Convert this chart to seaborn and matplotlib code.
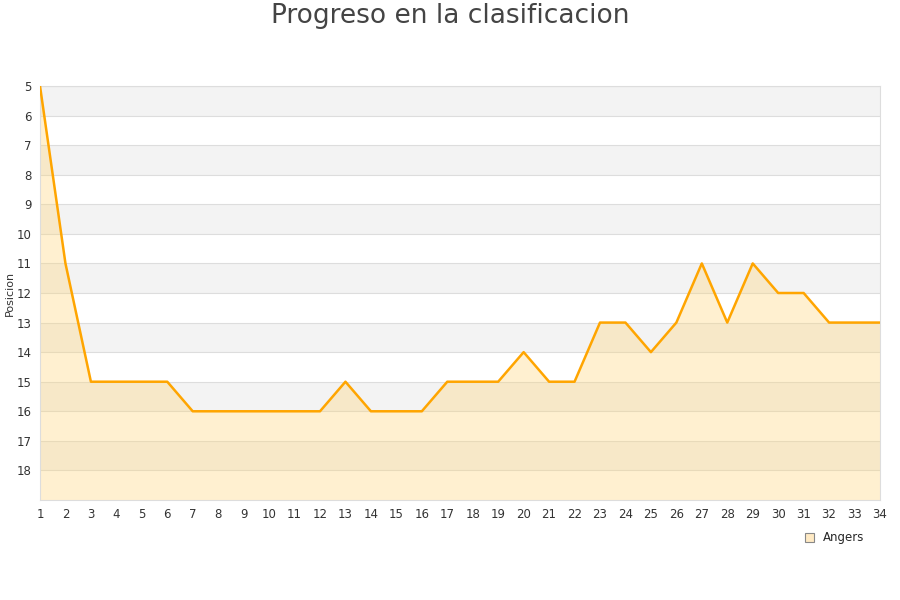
import numpy as np
import pandas as pd
import matplotlib
matplotlib.use('Agg')
import matplotlib.pyplot as plt
import seaborn as sns
from matplotlib.patches import Patch

# datos de la clasificacion
jornadas = list(range(1, 35))
posiciones = [5, 11, 15, 15, 15, 15, 16, 16, 16, 16, 16, 16, 15, 16, 16, 16, 15, 15,
              15, 14, 15, 15, 13, 13, 14, 13, 11, 13, 11, 12, 12, 13, 13, 13]
equipo = 'Angers'

df = pd.DataFrame({'Jornada': jornadas, 'Posicion': posiciones})

sns.set_style('white')
plt.rcParams['font.family'] = ['DejaVu Sans']

fig = plt.figure(figsize=(9, 6), dpi=100)
ax = fig.add_axes([40 / 900, 1 - 500 / 600, 840 / 900, 414 / 600])

# bandas alternas
for y0 in range(5, 19):
    if (y0 - 5) % 2 == 0:
        ax.axhspan(y0, y0 + 1, color='#f3f3f3', zorder=0, lw=0)
    ax.axhline(y0, color='#dddddd', lw=0.8, zorder=1)

ax.fill_between(df['Jornada'], df['Posicion'], 19, color='#ffd57a', alpha=0.35, lw=0, zorder=2)
sns.lineplot(data=df, x='Jornada', y='Posicion', ax=ax, color='#ffa500', lw=1.8, zorder=3)

ax.set_xlim(1, 34)
ax.set_ylim(19, 5)
ax.set_xticks(jornadas)
ax.set_yticks(range(5, 19))
ax.tick_params(axis='both', labelsize=8.5, colors='#333333', length=0, pad=6)
ax.set_xlabel('')
ax.set_ylabel('Posicion', fontsize=8, color='#333333', labelpad=1)
for s in ax.spines.values():
    s.set_color('#dddddd')
    s.set_linewidth(0.8)

fig.text(0.5, 1 - 16 / 600, 'Progreso en la clasificacion', ha='center', va='center',
         fontsize=19, color='#444444')

handle = Patch(facecolor='#ffeac4', edgecolor='#888888', lw=0.8, label=equipo)
fig.legend(handles=[handle], loc='center', bbox_to_anchor=(835 / 900, 1 - 538 / 600),
           frameon=False, fontsize=8.5, handlelength=0.7, handleheight=0.7, handletextpad=0.8)

fig.savefig('out.png', dpi=100)
